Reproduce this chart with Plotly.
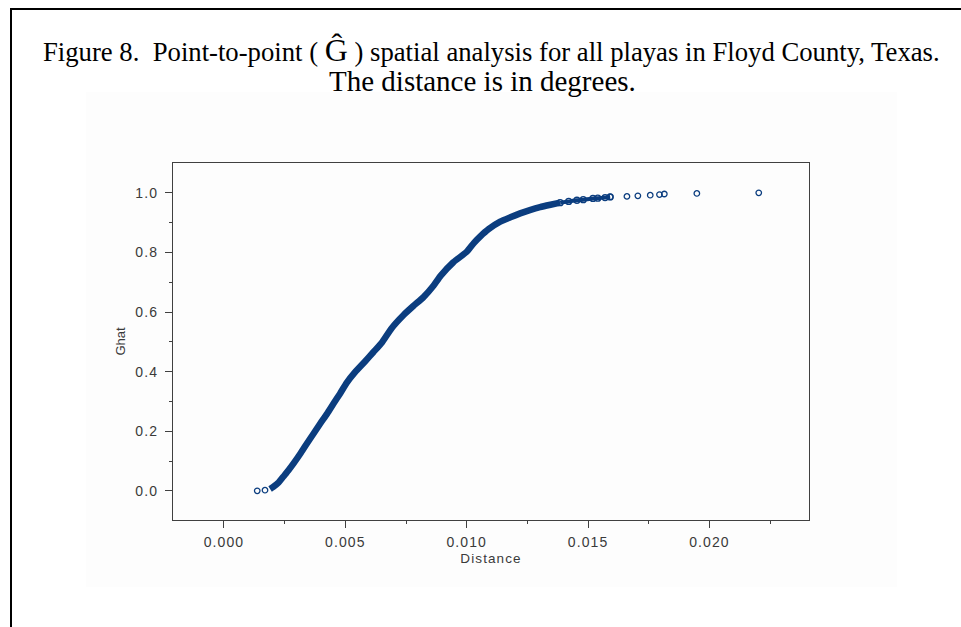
import plotly.graph_objects as go

# ---- data ----
# dense part of the G-hat curve (distance in degrees, G-hat)
band_distance = [0.00190, 0.00203, 0.00225, 0.00244, 0.00265, 0.00286, 0.00315, 0.00341,
                 0.00370, 0.00396, 0.00425, 0.00450, 0.00478, 0.00506, 0.00540, 0.00581,
                 0.00615, 0.00650, 0.00690, 0.00740, 0.00780, 0.00822, 0.00863, 0.00893,
                 0.00945, 0.01000, 0.01030, 0.01055, 0.01090, 0.01138, 0.01180, 0.01220,
                 0.01260, 0.01302, 0.01345, 0.01385]
band_ghat = [0.006, 0.013, 0.028, 0.047, 0.068, 0.091, 0.125, 0.158,
             0.193, 0.225, 0.259, 0.291, 0.326, 0.363, 0.398, 0.434,
             0.465, 0.497, 0.545, 0.590, 0.620, 0.650, 0.688, 0.722,
             0.767, 0.802, 0.832, 0.853, 0.878, 0.903, 0.918, 0.931,
             0.942, 0.952, 0.960, 0.967]
# thinner end of the dense run, where single circles start to show
end_distance = [0.01385, 0.01420, 0.01454, 0.01480, 0.01520, 0.01540, 0.01570, 0.01591]
end_ghat = [0.967, 0.971, 0.975, 0.977, 0.981, 0.982, 0.984, 0.986]
# separately visible points (start and tail)
sep_distance = [0.00137, 0.00169, 0.01591,
                0.01660, 0.01705, 0.01756, 0.01794, 0.01814, 0.01948, 0.02203]
sep_ghat = [0.000, 0.002, 0.986,
            0.988, 0.990, 0.992, 0.994, 0.996, 0.998, 1.000]

x_major = [0.000, 0.005, 0.010, 0.015, 0.020]
x_labels = ["0.000", "0.005", "0.010", "0.015", "0.020"]
y_major = [0.0, 0.2, 0.4, 0.6, 0.8, 1.0]
y_labels = ["0.0", "0.2", "0.4", "0.6", "0.8", "1.0"]

title_line1 = "Figure 8.  Point-to-point ( <span style='font-size:32px'>Ĝ</span> ) spatial analysis for all playas in Floyd County, Texas."
title_line2 = "The distance is in degrees."

COL = "#0b3d7f"
AX = "#404040"
TXT = "#3a3a3a"

W, H = 961, 627
L, R, T, B = 173, 809, 163, 520
pw, ph = R - L, B - T


def px(x):
    return (x - L) / pw


def py(y):
    return (B - y) / ph


def spaced(s):
    return "<span style='letter-spacing:1.1px'>" + s + "</span>"


fig = go.Figure()
fig.add_trace(go.Scatter(x=band_distance, y=band_ghat, mode="lines",
                         line=dict(color=COL, width=6.5, shape="spline", smoothing=0.6),
                         hoverinfo="skip", showlegend=False))
fig.add_trace(go.Scatter(x=end_distance, y=end_ghat, mode="lines+markers",
                         line=dict(color=COL, width=4, shape="spline", smoothing=0.6),
                         marker=dict(symbol="circle-open", size=6, color=COL, line=dict(width=1.3, color=COL)),
                         hoverinfo="skip", showlegend=False))
fig.add_trace(go.Scatter(x=sep_distance, y=sep_ghat, mode="markers",
                         marker=dict(symbol="circle-open", size=5.5, color=COL, line=dict(width=1.3, color=COL)),
                         showlegend=False))

fig.update_layout(
    width=W, height=H,
    margin=dict(l=L, r=W - R, t=T, b=H - B, pad=0),
    paper_bgcolor="white", plot_bgcolor="white",
    font=dict(family="Liberation Sans, Arial", color=TXT, size=14),
    xaxis=dict(range=[-0.0021, 0.0241], tickvals=x_major, ticktext=[spaced(s) for s in x_labels],
               ticks="outside", ticklen=7, tickcolor=AX, tickwidth=1,
               minor=dict(tickvals=[0.0025, 0.0075, 0.0125, 0.0175, 0.0225], ticks="outside",
                          ticklen=3, tickcolor=AX, tickwidth=1),
               showline=True, linecolor=AX, linewidth=1.3, mirror=True, showgrid=False, zeroline=False,
               title=dict(text=spaced("Distance"), standoff=4, font=dict(size=13.5, color=TXT)),
               ticklabelstandoff=2),
    yaxis=dict(range=[-0.098, 1.1], tickvals=y_major, ticktext=[spaced(s) for s in y_labels],
               ticks="outside", ticklen=7, tickcolor=AX, tickwidth=1,
               minor=dict(tickvals=[0.1, 0.3, 0.5, 0.7, 0.9], ticks="outside",
                          ticklen=3, tickcolor=AX, tickwidth=1),
               showline=True, linecolor=AX, linewidth=1.3, mirror=True, showgrid=False, zeroline=False,
               title=dict(text="Ghat", standoff=6, font=dict(size=13, color=TXT)),
               ticklabelstandoff=4),
    shapes=[
        # faint background panel behind the chart
        dict(type="rect", xref="paper", yref="paper", x0=px(86), x1=px(897), y0=py(587), y1=py(92),
             fillcolor="#fdfdfd", line=dict(width=0), layer="below"),
        # page border (top and left)
        dict(type="line", xref="paper", yref="paper", x0=px(10), x1=px(961), y0=py(9), y1=py(9),
             line=dict(color="black", width=2)),
        dict(type="line", xref="paper", yref="paper", x0=px(11), x1=px(11), y0=py(9), y1=py(627),
             line=dict(color="black", width=2)),
    ],
    annotations=[
        dict(text=title_line1, xref="paper", yref="paper", x=px(491), y=py(50), showarrow=False,
             xanchor="center", yanchor="middle",
             font=dict(family="Liberation Serif, Times New Roman", size=26.7, color="black")),
        dict(text=title_line2, xref="paper", yref="paper", x=px(482), y=py(81), showarrow=False,
             xanchor="center", yanchor="middle",
             font=dict(family="Liberation Serif, Times New Roman", size=29, color="black")),
    ],
)

fig.write_html("out.html")
